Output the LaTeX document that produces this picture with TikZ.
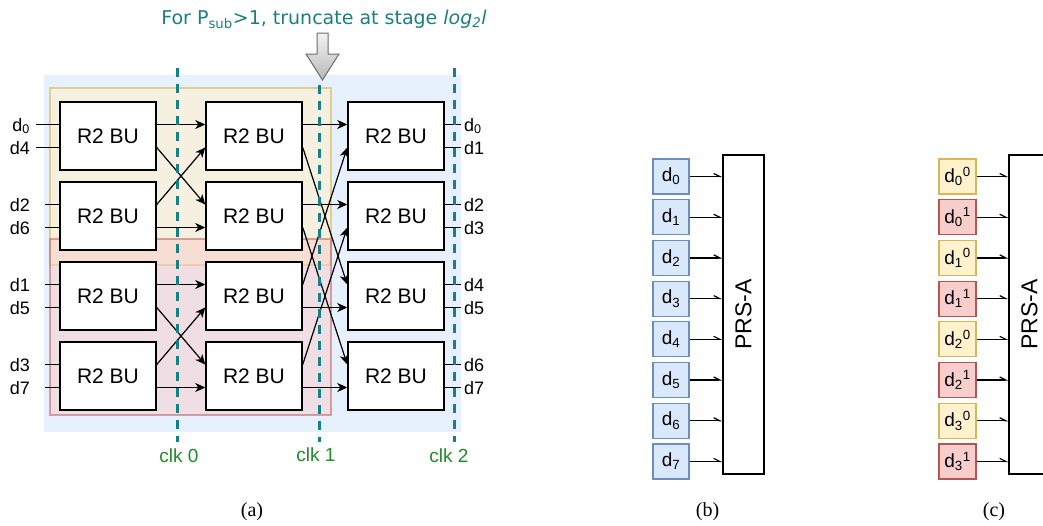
\documentclass[tikz,border=0pt]{standalone}
\usepackage{fontspec}
\setsansfont{Liberation Sans}
\newfontfamily\notefont{DejaVu Sans}
\newfontfamily\capfont{Liberation Serif}
\usetikzlibrary{arrows.meta,positioning,calc}
\definecolor{bgblue}{HTML}{DAE8FC}
\definecolor{bdblue}{HTML}{6C8EBF}
\definecolor{bgyel}{HTML}{FFF2CC}
\definecolor{bdyel}{HTML}{D6B656}
\definecolor{bgred}{HTML}{F8CECC}
\definecolor{bdred}{HTML}{B85450}
\definecolor{clkteal}{HTML}{14808A}
\definecolor{clkgreen}{HTML}{1E8A28}
\definecolor{noteteal}{HTML}{1A7F80}

\begin{document}
\begin{tikzpicture}[x=1pt,y=-1pt,
  bu/.style={draw,line width=1.5pt,fill=white,minimum width=96pt,minimum height=68pt,inner sep=0pt,
    font=\sffamily\fontsize{21}{21}\selectfont},
  wire/.style={line width=1.2pt},
  flow/.style={wire,-{Stealth[length=10pt,width=9pt,inset=3pt]}},
  feed/.style={wire,-{Straight Barb[left,length=6pt,width=6pt]}},
  dlab/.style={inner sep=0pt,font=\sffamily\fontsize{18}{18}\selectfont},
  sbox/.style={line width=1.2pt,minimum width=36pt,minimum height=35pt,inner sep=0pt,
    font=\sffamily\fontsize{19}{19}\selectfont},
  prs/.style={draw,line width=1.5pt,rotate=90,minimum width=319pt,minimum height=41pt,inner sep=0pt,
    font=\sffamily\fontsize{23}{23}\selectfont},
  clkline/.style={clkteal,line width=3pt,dash pattern=on 9pt off 7pt},
  clklab/.style={clkgreen,font=\sffamily\fontsize{19}{19}\selectfont},
  subcap/.style={font=\capfont\fontsize{20}{20}\selectfont}]
\useasboundingbox (0,0) rectangle (1043,525);

\fill[bgblue,fill opacity=0.65] (44,75) rectangle (461,432);
\filldraw[fill=bgyel,draw=bdyel,fill opacity=0.6,draw opacity=0.6,line width=1.2pt] (50,88) rectangle (331,265);
\filldraw[fill=bgred,draw=bdred,fill opacity=0.5,draw opacity=0.5,line width=1.2pt] (50,239) rectangle (331,415);

\foreach \c/\x in {A/108,B/254,C/396}
  \foreach \r in {1,2,3,4}{
    \node[bu] (\c\r) at (\x,{56+80*\r}) {R2 BU};
    \coordinate (\c\r w0) at ([yshift=11.5pt]\c\r.west);
    \coordinate (\c\r w1) at ([yshift=-11.5pt]\c\r.west);
    \coordinate (\c\r e0) at ([yshift=11.5pt]\c\r.east);
    \coordinate (\c\r e1) at ([yshift=-11.5pt]\c\r.east);
  }

\foreach \s/\t in {A1e0/B1w0,A1e1/B2w0,A2e0/B1w1,A2e1/B2w1,A3e0/B3w0,A3e1/B4w0,A4e0/B3w1,A4e1/B4w1,
  B1e0/C1w0,B1e1/C3w0,B2e0/C2w0,B2e1/C4w0,B3e0/C1w1,B3e1/C3w1,B4e0/C2w1,B4e1/C4w1}
  \draw[flow] (\s) -- (\t);

\foreach \r/\x/\u/\l in {1/36/d\textsubscript{0}/d4,2/45/d2/d6,3/45/d1/d5,4/45/d3/d7}{
  \node[dlab,anchor=base east] (iu\r) at (30,{51+80*\r}) {\u};
  \node[dlab,anchor=base east] (il\r) at (30,{74+80*\r}) {\l};
  \coordinate (su\r) at (\x,{44.5+80*\r});
  \coordinate (sl\r) at (\x,{67.5+80*\r});
  \draw[wire] (su\r) -- (A\r w0);
  \draw[wire] (sl\r) -- (A\r w1);
}

\foreach \r/\u/\l in {1/d\textsubscript{0}/d1,2/d2/d3,3/d4/d5,4/d6/d7}{
  \coordinate (tu\r) at ([xshift=16pt]C\r e0);
  \coordinate (tl\r) at ([xshift=16pt]C\r e1);
  \draw[wire] (C\r e0) -- (tu\r);
  \draw[wire] (C\r e1) -- (tl\r);
  \node[dlab,anchor=base west] (ou\r) at (464,{51+80*\r}) {\u};
  \node[dlab,anchor=base west] (ol\r) at (464,{74+80*\r}) {\l};
}

\draw[clkline] (177,68) -- (177,442);
\draw[clkline] (319,85) -- (319,442);
\draw[clkline] (454,68) -- (454,442);
\node[clklab] (clk0) at (179,456) {clk 0};
\node[clklab] (clk1) at (316,455) {clk 1};
\node[clklab] (clk2) at (449,456) {clk 2};

\shade[top color=gray!10,bottom color=gray!55,draw=gray!85!black,line width=1pt]
  (317,33) -- (328,33) -- (328,54) -- (339,54) -- (322.5,80) -- (306,54) -- (317,54) -- cycle;
\node[noteteal,anchor=base,font=\notefont\fontsize{19}{19}\selectfont] (note) at (324,24)
  {For P\textsubscript{sub}>1, truncate at stage \textit{log\textsubscript{2}l}};

\node[prs] (prsb) at (743.5,314.5) {PRS-A};
\foreach \i in {0,...,7}{
  \node[sbox,draw=bdblue,fill=bgblue] (b\i) at (671,{176.5+40.7*\i}) {d\textsubscript{\i}};
  \draw[feed] (b\i.east) -- (b\i.east -| prsb.north);
}

\node[prs] (prsc) at (1029.5,314.5) {PRS-A};
\foreach \i/\k/\s/\col in {0/0/0/yel,1/0/1/red,2/1/0/yel,3/1/1/red,4/2/0/yel,5/2/1/red,6/3/0/yel,7/3/1/red}{
  \node[sbox,draw=bd\col,fill=bg\col,minimum width=37pt] (c\i) at (957.5,{176.5+40.7*\i})
    {d\textsubscript{\k}\textsuperscript{\s}};
  \draw[feed] (c\i.east) -- (c\i.east -| prsc.north);
}

\node[subcap] (capa) at (252,512) {(a)};
\node[subcap] (capb) at (707.5,512) {(b)};
\node[subcap] (capc) at (994,512) {(c)};
\end{tikzpicture}
\end{document}
